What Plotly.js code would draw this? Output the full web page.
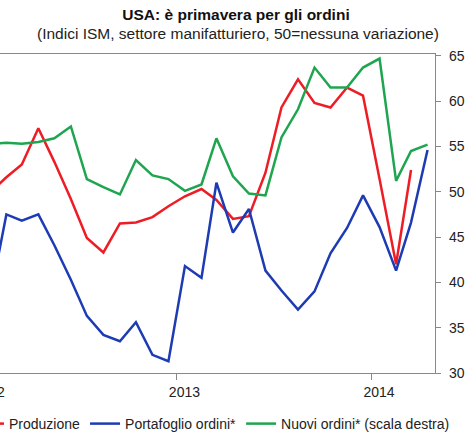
<!DOCTYPE html>
<html>
<head>
<meta charset="utf-8">
<script src="https://cdn.plot.ly/plotly-3.0.1.min.js"></script>
<style>
html,body{margin:0;padding:0;background:#fff;overflow:hidden;width:476px;height:432px;}
#chart{width:576px;height:432px;margin-left:-100px;}
</style>
</head>
<body>
<div id="chart"></div>
<script>
var months = ["2012-01-01","2012-02-01","2012-03-01","2012-04-01","2012-05-01","2012-06-01","2012-07-01","2012-08-01","2012-09-01","2012-10-01","2012-11-01","2012-12-01",
              "2013-01-01","2013-02-01","2013-03-01","2013-04-01","2013-05-01","2013-06-01","2013-07-01","2013-08-01","2013-09-01","2013-10-01","2013-11-01","2013-12-01",
              "2014-01-01","2014-02-01","2014-03-01","2014-04-01"];
var produzione = [49.9, 51.6, 53.0, 57.0, 53.3, 49.2, 44.9, 43.3, 46.5, 46.6, 47.2, 48.4,
                  49.5, 50.3, 49.1, 47.0, 47.3, 52.1, 59.3, 62.4, 59.8, 59.3, 61.5, 60.6,
                  51.4, 42.0, 52.4, null];
var portafoglio = [38.1, 47.5, 46.8, 47.5, 44.1, 40.3, 36.3, 34.2, 33.5, 35.6, 32.0, 31.3,
                   41.8, 40.5, 51.0, 45.5, 48.1, 41.3, 39.1, 37.0, 39.0, 43.2, 46.0, 49.6,
                   46.1, 41.3, 46.6, 54.6];
var nuovi = [55.3, 55.4, 55.3, 55.5, 55.9, 57.2, 51.4, 50.5, 49.7, 53.5, 51.8, 51.4,
             50.1, 50.8, 55.9, 51.7, 49.8, 49.6, 56.0, 59.1, 63.7, 61.5, 61.5, 63.7,
             64.7, 51.2, 54.5, 55.2];
var seriesNames = ["Produzione", "Portafoglio ordini*", "Nuovi ordini* (scala destra)"];
var yearTickPos = ["2011-12-16", "2012-12-16", "2013-12-16"];
var yearTickText = ["2012", "2013", "2014"];
var titleText = "USA: è primavera per gli ordini";
var subtitleText = "(Indici ISM, settore manifatturiero, 50=nessuna variazione)";

var FONT = "Arial, 'Liberation Sans', sans-serif";
var traces = [
  {x: months, y: produzione, name: seriesNames[0], type: "scatter", mode: "lines",
   line: {color: "#ee1c25", width: 2.5}},
  {x: months, y: portafoglio, name: seriesNames[1], type: "scatter", mode: "lines",
   line: {color: "#1d3bb3", width: 2.5}},
  {x: months, y: nuovi, name: seriesNames[2], type: "scatter", mode: "lines",
   line: {color: "#1fa550", width: 2.5}}
];
var layout = {
  width: 576, height: 432,
  margin: {l: 20, r: 41, t: 54, b: 59, pad: 0, autoexpand: false},
  paper_bgcolor: "#fff", plot_bgcolor: "#fff",
  font: {family: FONT, size: 14, color: "#222"},
  showlegend: true,
  title: {
    text: "<b>" + titleText + "</b>",
    font: {family: FONT, size: 15.5, color: "#111"},
    x: 336/576, xref: "container", xanchor: "center",
    y: 1 - 15/432, yref: "container", yanchor: "middle"
  },
  annotations: [
    {text: subtitleText, xref: "paper", yref: "paper",
     x: 318/515, y: 1 + 21/319, xanchor: "center", yanchor: "middle",
     showarrow: false, font: {family: FONT, size: 15.5, color: "#222"}}
  ],
  xaxis: {
    type: "date",
    range: ["2011-08-23", "2014-04-15"],
    tickmode: "array", tickvals: yearTickPos, ticktext: yearTickText,
    ticks: "outside", ticklen: 6, tickcolor: "#888", tickwidth: 1,
    ticklabelshift: 8,
    showline: true, linecolor: "#888", linewidth: 1.2, mirror: true,
    showgrid: false, zeroline: false,
    tickfont: {family: FONT, size: 14, color: "#222"},
    automargin: false, fixedrange: true
  },
  yaxis: {
    side: "right",
    range: [30, 65.2],
    tick0: 30, dtick: 5,
    ticks: "outside", ticklen: 5, tickcolor: "#888", tickwidth: 1,
    ticklabelstandoff: 5,
    showline: true, linecolor: "#888", linewidth: 1.2,
    showgrid: false, zeroline: false,
    tickfont: {family: FONT, size: 14, color: "#222"},
    automargin: false, fixedrange: true
  },
  legend: {
    orientation: "h", x: 49/515, xanchor: "left", y: -35/319, yanchor: "top",
    font: {family: FONT, size: 14, color: "#222"},
    bgcolor: "rgba(0,0,0,0)", traceorder: "normal"
  }
};
Plotly.newPlot("chart", traces, layout, {staticPlot: true, displayModeBar: false});
</script>
</body>
</html>
